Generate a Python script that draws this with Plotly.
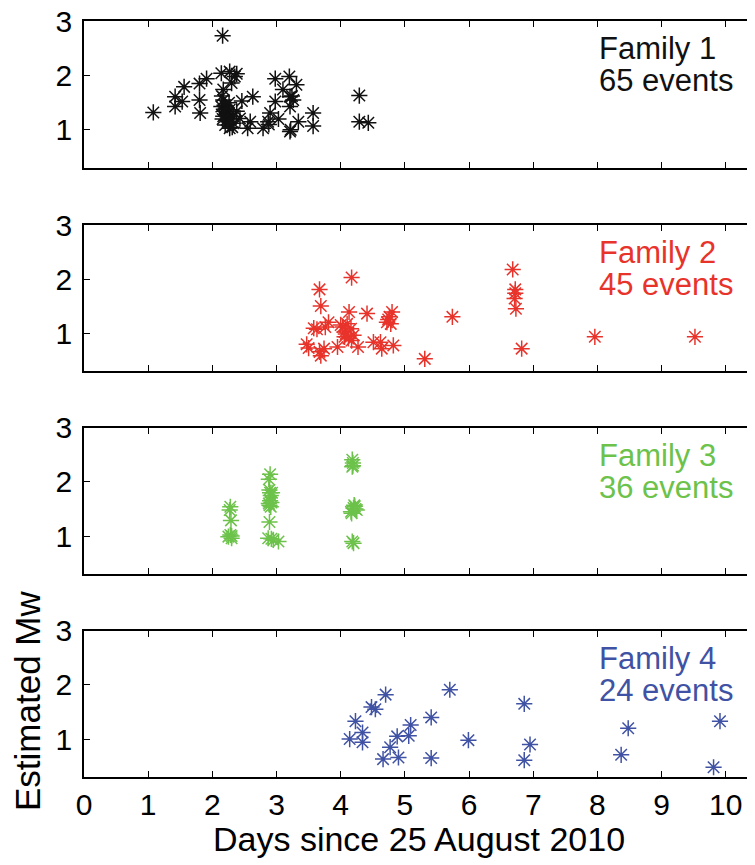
import plotly.graph_objects as go
from plotly.subplots import make_subplots

# ---------------- data ----------------
fam1_days = [1.08, 1.42, 1.42, 1.56, 1.53, 1.80, 1.80, 1.81, 1.91, 2.16,
             2.14, 2.27, 2.38, 2.17, 2.30, 2.17, 2.14, 2.20, 2.27, 2.17,
             2.22, 2.33, 2.38, 2.27, 2.20, 2.33, 2.43, 2.46, 2.63, 2.59,
             2.55, 2.79, 2.87, 2.90, 2.98, 2.98, 3.03, 3.10, 3.20, 3.21,
             3.21, 3.31, 3.26, 3.21, 3.34, 3.57, 3.57, 4.29, 4.29, 4.43,
             2.19, 2.24, 2.15, 2.25, 2.31, 2.18, 2.23, 2.29, 2.88, 3.24,
             2.21, 2.16, 2.26, 2.35, 3.22]
fam1_mw = [1.32, 1.61, 1.43, 1.79, 1.52, 1.85, 1.55, 1.31, 1.94, 2.73,
           2.04, 2.07, 2.03, 1.74, 1.86, 1.55, 1.43, 1.34, 1.37, 1.25,
           1.18, 1.25, 1.34, 1.03, 1.09, 1.12, 1.21, 1.53, 1.61, 1.15,
           1.03, 1.03, 1.15, 1.31, 1.52, 1.94, 1.20, 1.74, 1.98, 1.61,
           1.43, 1.83, 1.55, 0.97, 1.15, 1.31, 1.07, 1.63, 1.15, 1.13,
           1.45, 1.30, 1.62, 1.15, 1.05, 1.38, 1.28, 1.20, 1.10, 1.62,
           1.40, 1.20, 1.50, 1.98, 1.00]

fam2_days = [3.47, 3.58, 3.67, 3.69, 3.67, 3.69, 3.76, 3.74, 3.81, 3.95,
             4.03, 4.06, 4.06, 4.10, 4.13, 4.17, 4.16, 4.17, 4.20, 4.27,
             4.41, 4.51, 4.62, 4.64, 4.72, 4.76, 4.78, 4.80, 4.82, 5.31,
             5.74, 6.68, 6.72, 6.71, 6.73, 6.72, 6.82, 7.96, 9.52, 3.50,
             3.63, 4.08, 4.12, 4.00, 4.74]
fam2_mw = [0.79, 1.09, 1.81, 1.50, 0.65, 0.58, 1.11, 0.71, 1.20, 0.74,
           1.11, 1.02, 0.93, 1.17, 1.39, 2.03, 1.08, 0.86, 0.96, 0.74,
           1.36, 0.83, 0.83, 0.71, 1.20, 1.30, 1.17, 1.39, 0.77, 0.52,
           1.30, 2.18, 1.81, 1.64, 1.45, 1.74, 0.71, 0.93, 0.93, 0.72,
           1.07, 0.98, 0.90, 1.15, 1.25]

fam3_days = [2.28, 2.29, 2.28, 2.25, 2.30, 2.27, 2.90, 2.89, 2.91, 2.90,
             2.89, 2.91, 2.89, 2.87, 2.95, 3.03, 2.90, 2.88, 2.92, 2.93,
             4.18, 4.18, 4.21, 4.25, 4.17, 4.20, 4.18, 4.20, 4.19, 4.22,
             4.16, 2.30, 2.88, 2.92, 4.19, 4.23]
fam3_mw = [1.54, 1.29, 1.02, 0.99, 0.96, 1.48, 2.14, 1.85, 1.75, 1.80,
           1.57, 1.54, 1.26, 0.96, 0.93, 0.90, 1.65, 1.60, 0.95, 1.80,
           2.41, 2.28, 1.57, 1.48, 1.42, 1.52, 0.90, 0.87, 2.35, 1.55,
           1.45, 1.00, 2.05, 1.62, 2.30, 1.50]

fam4_days = [4.14, 4.23, 4.34, 4.34, 4.48, 4.54, 4.70, 4.66, 4.77, 4.88,
             4.90, 5.06, 5.09, 5.41, 5.41, 5.70, 5.99, 6.86, 6.86, 6.95,
             8.37, 8.48, 9.81, 9.91]
fam4_mw = [1.00, 1.33, 1.12, 0.94, 1.59, 1.55, 1.82, 0.63, 0.85, 1.05,
           0.66, 1.06, 1.26, 1.40, 0.65, 1.91, 0.98, 1.65, 0.61, 0.90,
           0.71, 1.20, 0.48, 1.33]

families = [
    ("Family 1", "65 events", fam1_days, fam1_mw, "#111111"),
    ("Family 2", "45 events", fam2_days, fam2_mw, "#E8332B"),
    ("Family 3", "36 events", fam3_days, fam3_mw, "#6CC24A"),
    ("Family 4", "24 events", fam4_days, fam4_mw, "#4052A3"),
]

x_ticks = list(range(0, 11))
y_ticks = [1, 2, 3]

# ---------------- figure ----------------
# page body has an 8px default margin; the figure is sized to fill the rest
OFF = 8
W, H = 755 - OFF, 865 - OFF
ML, MR, MT, MB = 84 - OFF, 1, 21 - OFF, 88
plot_h = H - MT - MB
plot_w = W - ML - MR

fig = make_subplots(rows=4, cols=1, shared_xaxes=False, vertical_spacing=0.05)

domains = [(0.8056, 1.0), (0.5374, 0.7298), (0.2685, 0.4620), (0.0, 0.1935)]
FONT = "Liberation Sans, Arial, Helvetica, sans-serif"

for i, (name, count, xs, ys, col) in enumerate(families):
    r = i + 1
    fig.add_trace(go.Scatter(
        x=xs, y=ys, mode="markers",
        marker=dict(symbol="asterisk-open", size=13.5, color=col,
                    line=dict(color=col, width=1.5)),
        showlegend=False, hoverinfo="x+y"), row=r, col=1)
    xa = "xaxis" if r == 1 else f"xaxis{r}"
    ya = "yaxis" if r == 1 else f"yaxis{r}"
    fig.layout[xa].update(
        range=[0, 10.44], tickvals=x_ticks, ticks="inside", ticklen=6,
        tickwidth=1.4, tickcolor="black", showline=True, linecolor="black",
        linewidth=1.6, mirror="allticks", showgrid=False, zeroline=False,
        showticklabels=(r == 4), tickfont=dict(size=30, color="black", family=FONT),
        ticklabelstandoff=0, automargin=False, ticklabeloverflow="allow")
    fig.layout[ya].update(
        domain=list(domains[i]), range=[0.3, 3], tickvals=y_ticks,
        ticks="inside", ticklen=6, tickwidth=1.4, tickcolor="black",
        showline=True, linecolor="black", linewidth=1.6, mirror="allticks",
        showgrid=False, zeroline=False,
        tickfont=dict(size=30, color="black", family=FONT),
        ticklabelstandoff=4, automargin=False, ticklabeloverflow="allow")
    xref = "x" if r == 1 else f"x{r}"
    yref = "y" if r == 1 else f"y{r}"
    fig.add_annotation(text=name, xref=f"{xref} domain", yref=f"{yref} domain",
                       x=0.766, y=0.945, xanchor="left", yanchor="top",
                       showarrow=False, font=dict(size=31, color=col, family=FONT))
    fig.add_annotation(text=count, xref=f"{xref} domain", yref=f"{yref} domain",
                       x=0.766, y=0.725, xanchor="left", yanchor="top",
                       showarrow=False, font=dict(size=31, color=col, family=FONT))

# axis titles
fig.add_annotation(text="Days since 25 August 2010", xref="paper", yref="paper",
                   x=0.5, y=-(62) / plot_h, xanchor="center",
                   yanchor="middle", showarrow=False,
                   font=dict(size=34, color="black", family=FONT))
fig.add_annotation(text="Estimated Mw", xref="paper", yref="paper",
                   x=-(84 - 27) / plot_w, y=(777 - 701) / plot_h,
                   xanchor="center", yanchor="middle", textangle=-90,
                   showarrow=False, font=dict(size=35, color="black", family=FONT))

fig.update_layout(width=W, height=H, margin=dict(l=ML, r=MR, t=MT, b=MB),
                  paper_bgcolor="white", plot_bgcolor="white",
                  font=dict(family=FONT, color="black"))

fig.write_html("out.html")
